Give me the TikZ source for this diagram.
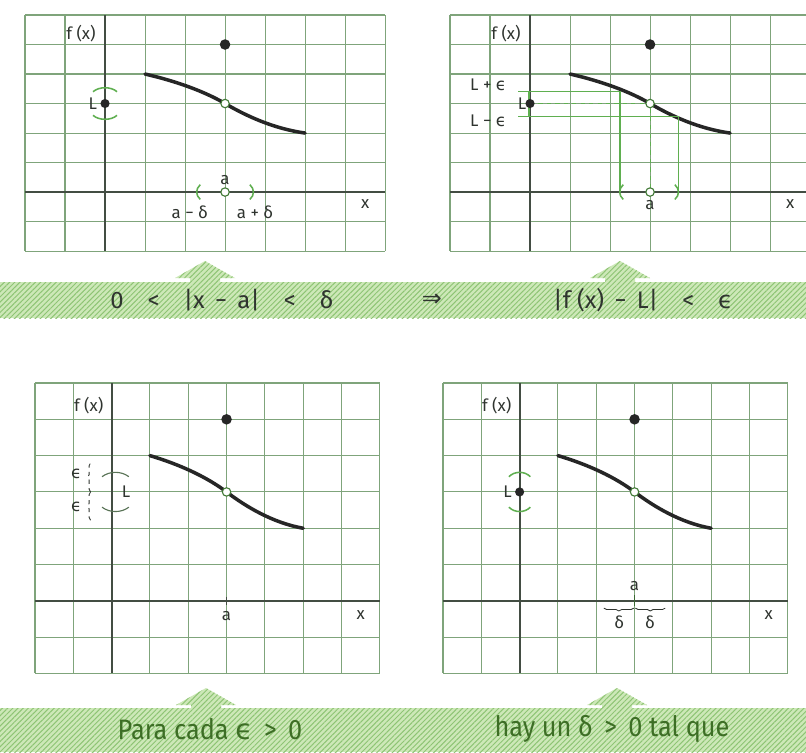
\documentclass[tikz,border=0pt]{standalone}
\definecolor{limGrid}{HTML}{7FA47B}
\definecolor{limAxis}{HTML}{434D43}
\definecolor{limGreen}{HTML}{5FAF50}
\definecolor{limBand}{HTML}{CDE8B8}
\definecolor{limHatch}{HTML}{8EC474}
\definecolor{limText}{HTML}{2F342F}
\definecolor{limDeep}{HTML}{3D6E25}
\usepackage{fontspec}
\setmainfont{Fira Sans}
\newfontfamily\symfont{DejaVu Sans}
\newfontfamily\bandfont[FakeStretch=0.9]{Fira Sans}
\usepackage{tikz}
\usetikzlibrary{patterns.meta, decorations.pathreplacing}
\newcommand{\eps}{{\symfont ϵ}}
% common part of each panel: grid, axes, graph, point above a
\newcommand{\limbase}[1]{%
  \foreach \i in {0,...,9} \draw[gridline] (\i,0) -- (\i,8);
  \foreach \j in {0,...,8} \draw[gridline] (0,\j) -- (9,\j);
  \draw[axisline] (2,0) -- (2,8);
  \draw[axisline] (0,6) -- (9,6);
  \node[lbl] (#1-fx) at (1.4,0.62) {f (x)};
  \node[lbl] (#1-x) at (8.5,6.4) {x};
  \draw[curveline] (3,2) .. controls (3.8,2.25) and (4.5,2.6) .. (5,3)
    .. controls (5.5,3.4) and (6.2,3.85) .. (7,4);
  \node[dot] (#1-fa) at (5,1) {};
  \node[hole] (#1-h) at (5,3) {};
}

\begin{document}
\begin{tikzpicture}[x=0.025cm, y=-0.025cm,
  gridline/.style={limGrid, line width=0.75pt},
  axisline/.style={limAxis, line width=1.4pt},
  curveline/.style={black!85, line width=2.5pt, line cap=round},
  dot/.style={circle, fill=black!85, inner sep=0pt, minimum size=7.5pt},
  hole/.style={circle, draw=limGreen!70!black, fill=white, line width=0.8pt,
    inner sep=0pt, minimum size=6pt},
  lbl/.style={font=\fontsize{12}{14}\selectfont, text=limText, inner sep=1pt},
  accent/.style={limGreen, line width=1.1pt},
  guide/.style={limGreen, line width=0.8pt},
  hatch/.style={fill=limBand, postaction={pattern color=limHatch,
    pattern={Lines[angle=45, distance=2.6pt, line width=0.7pt]}}},
  bandtext/.style={font=\fontsize{17}{19}\selectfont, text=limText},
  bandlow/.style={font=\bandfont\fontsize{20}{22}\selectfont, text=limDeep}]

  \useasboundingbox[fill=white] (0,0) rectangle (806,752);

  % Top left — the interval round a on the x axis
  \begin{scope}[shift={(25,15)}, x=1cm, y=-0.7375cm]
    \limbase{tl}
    \node[dot, minimum size=6.5pt] (tl-L) at (2,3) {};
    \node[lbl, anchor=east] (tl-Ltxt) at (1.84,3) {L};
    \draw[accent] (1.7,2.6) .. controls (1.85,2.42) and (2.15,2.42) .. (2.3,2.6);
    \draw[accent] (1.7,3.4) .. controls (1.85,3.58) and (2.15,3.58) .. (2.3,3.4);
    \draw[accent] (4.38,5.75) .. controls (4.26,5.9) and (4.26,6.1) .. (4.38,6.25);
    \draw[accent] (5.62,5.75) .. controls (5.74,5.9) and (5.74,6.1) .. (5.62,6.25);
    \node[hole] (tl-a) at (5,6) {};
    \node[lbl] (tl-atxt) at (5,5.6) {a};
    \node[lbl] (tl-am) at (4.12,6.7) {a − δ};
    \node[lbl] (tl-ap) at (5.75,6.7) {a + δ};
  \end{scope}

  % Top right — the band L +/- eps and its image on the x axis
  \begin{scope}[shift={(450,15)}, x=1cm, y=-0.7375cm]
    \limbase{tr}
    \draw[guide] (1.7,2.6) -- (4.25,2.6) -- (4.25,6);
    \draw[guide] (1.7,3.45) -- (5.7,3.45) -- (5.7,6);
    \draw[guide, dashed] (2,3) -- (tr-h);
    \draw[guide, dashed] (tr-h) -- (5,6);
    \draw[limGreen, line width=1.6pt] (1.97,2.6) -- (1.97,3.45);
    \node[dot, minimum size=6.5pt] (tr-L) at (2,3) {};
    \node[lbl, anchor=east] (tr-Lp) at (1.45,2.38) {L + \eps};
    \node[lbl, anchor=east, inner sep=0.5pt] (tr-Ltxt) at (1.93,3.0) {L};
    \node[lbl, anchor=east] (tr-Lm) at (1.45,3.58) {L − \eps};
    \draw[accent] (4.33,5.75) .. controls (4.21,5.9) and (4.21,6.1) .. (4.33,6.25);
    \draw[accent] (5.62,5.75) .. controls (5.74,5.9) and (5.74,6.1) .. (5.62,6.25);
    \node[hole] (tr-a) at (5,6) {};
    \node[lbl] (tr-atxt) at (5,6.45) {a};
  \end{scope}

  % Bottom left — every eps round L
  \begin{scope}[shift={(35,383)}, x=0.9575cm, y=-0.9075cm]
    \limbase{bl}
    \draw[limText, line width=0.6pt, dashed,
      decorate, decoration={brace, amplitude=2pt}] (1.45,3.0) -- (1.45,2.2);
    \draw[limText, line width=0.6pt, dashed,
      decorate, decoration={brace, amplitude=2pt}] (1.45,3.78) -- (1.45,3.0);
    \node[lbl] (bl-e1) at (1.08,2.5) {\eps};
    \node[lbl] (bl-e2) at (1.08,3.42) {\eps};
    \draw[limGrid!70!black, line width=0.8pt]
      (1.75,2.58) .. controls (1.95,2.42) and (2.25,2.42) .. (2.45,2.58);
    \draw[limGrid!70!black, line width=0.8pt]
      (1.75,3.42) .. controls (1.95,3.58) and (2.25,3.58) .. (2.45,3.42);
    \node[lbl] (bl-Ltxt) at (2.38,3.0) {L};
    \draw[axisline, line width=1pt] (5,5.88) -- (5,6.12);
    \node[lbl] (bl-atxt) at (5,6.42) {a};
  \end{scope}

  % Bottom right — a delta round a
  \begin{scope}[shift={(443,383)}, x=0.9575cm, y=-0.9075cm]
    \limbase{br}
    \node[dot, minimum size=6.5pt] (br-L) at (2,3) {};
    \node[lbl, anchor=east] (br-Ltxt) at (1.84,3) {L};
    \draw[accent] (1.72,2.58) .. controls (1.87,2.42) and (2.13,2.42) .. (2.28,2.58);
    \draw[accent] (1.72,3.42) .. controls (1.87,3.58) and (2.13,3.58) .. (2.28,3.42);
    \draw[axisline, line width=1pt, limGreen!60!black] (5,5.85) -- (5,6.15);
    \node[lbl] (br-atxt) at (5,5.6) {a};
    \draw[limText, line width=0.6pt,
      decorate, decoration={brace, mirror, amplitude=2pt}] (4.2,6.2) -- (4.98,6.2);
    \draw[limText, line width=0.6pt,
      decorate, decoration={brace, mirror, amplitude=2pt}] (5.02,6.2) -- (5.8,6.2);
    \node[lbl] (br-d1) at (4.6,6.58) {δ};
    \node[lbl] (br-d2) at (5.4,6.58) {δ};
  \end{scope}

  % Hatched bands and the arrows into them
  \fill[hatch] (0,282) rectangle (806,318);
  \fill[hatch] (0,708) rectangle (806,752);
  \foreach \ax/\ay in {205/261, 620/261, 206/688, 617/688}
    \fill[hatch] (\ax-30,\ay+17) -- (\ax,\ay) -- (\ax+30,\ay+17) -- (\ax+15,\ay+17)
      -- (\ax+15,\ay+23) -- (\ax-15,\ay+23) -- (\ax-15,\ay+17) -- cycle;

  \node[bandtext] (cond) at (222,300) {0\quad<\quad|x \,−\, a|\quad<\quad δ};
  \node[bandtext] (impl) at (432,300) {{\symfont ⇒}};
  \node[bandtext] (concl) at (643,300) {|f (x) \,−\, L|\quad<\quad\eps};
  \node[bandlow] (every) at (210,729) {Para cada \eps\ \,>\, 0};
  \node[bandlow] (exists) at (612,729) {hay un δ \,>\, 0 tal que};
\end{tikzpicture}
\end{document}
